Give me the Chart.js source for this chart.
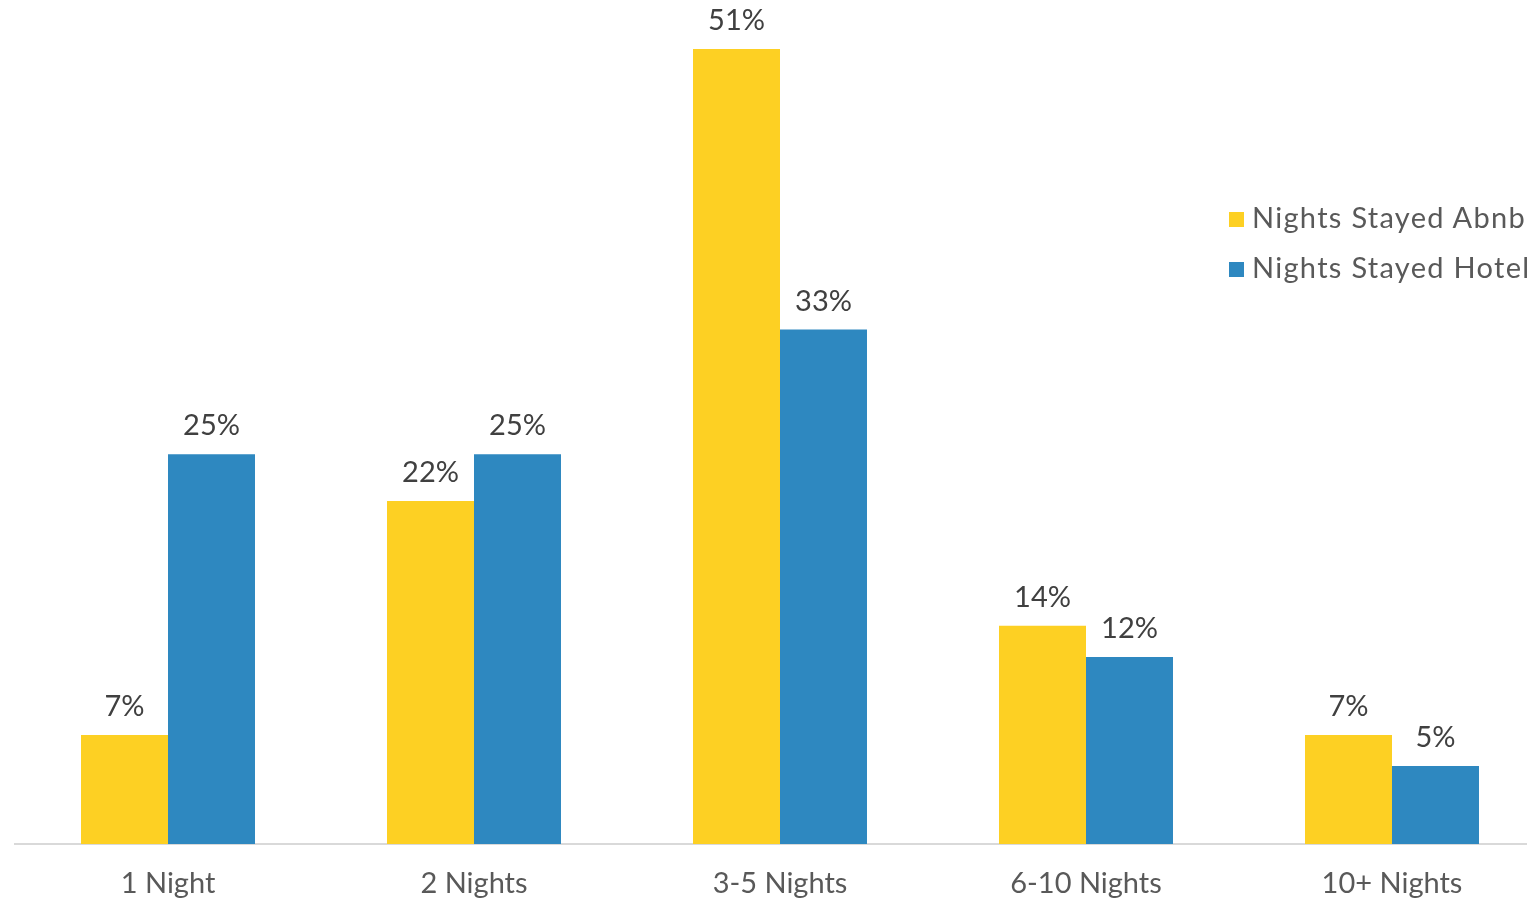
<!DOCTYPE html>
<html>
<head>
<meta charset="utf-8">
<script src="https://cdn.jsdelivr.net/npm/chart.js@4"></script>
<style>
  html, body { margin: 0; padding: 0; background: #fff; overflow: hidden; }
  #wrap { position: relative; width: 1560px; height: 902px; }
  #legend { position: absolute; left: 1229px; top: 199px; font-family: Lato, sans-serif; font-size: 29px; letter-spacing: 1.3px; color: #595959; white-space: nowrap; }
  #legend div { height: 50px; line-height: 36px; }
  #legend span.box { display: inline-block; width: 15px; height: 15px; margin-right: 8px; vertical-align: 1px; }
</style>
</head>
<body>
<div id="wrap">
  <canvas id="nights_chart" width="1560" height="902"></canvas>
  <div id="legend"></div>
</div>
<script>
const categories = ["1 Night", "2 Nights", "3-5 Nights", "6-10 Nights", "10+ Nights"];
const abnb = [7, 22, 51, 14, 7];
const hotel = [25, 25, 33, 12, 5];
const seriesNames = ["Nights Stayed Abnb", "Nights Stayed Hotel"];
const colors = ["#FDD023", "#2E88C0"];

// percent labels above each bar
const barLabels = {
  id: "barLabels",
  afterDatasetsDraw(chart) {
    const ctx = chart.ctx;
    ctx.save();
    ctx.font = "29px Lato, sans-serif";
    ctx.fillStyle = "#404040";
    ctx.textAlign = "center";
    ctx.textBaseline = "alphabetic";
    chart.data.datasets.forEach((ds, i) => {
      chart.getDatasetMeta(i).data.forEach((bar, j) => {
        ctx.fillText(ds.data[j] + "%", bar.x, bar.y - 19);
      });
    });
    ctx.restore();
  },
};

let nights_chart = document.getElementById("nights_chart");
let nightsChart = new Chart(nights_chart, {
  type: "bar",
  data: {
    labels: categories,
    datasets: [
      {
        label: seriesNames[0],
        data: abnb,
        backgroundColor: colors[0],
        categoryPercentage: 0.5686,
        barPercentage: 1,
      },
      {
        label: seriesNames[1],
        data: hotel,
        backgroundColor: colors[1],
        categoryPercentage: 0.5686,
        barPercentage: 1,
      },
    ],
  },
  options: {
    responsive: false,
    animation: false,
    layout: { padding: { left: 15, right: 15, top: 0, bottom: 0 } },
    plugins: {
      legend: { display: false },
      tooltip: { enabled: false },
    },
    scales: {
      x: {
        grid: { display: false, drawTicks: false },
        border: { display: true, color: "#D9D9D9", width: 2 },
        ticks: {
          color: "#595959",
          font: { family: "Lato, sans-serif", size: 29 },
          padding: 22,
          maxRotation: 0,
        },
        afterFit(scale) {
          scale.height = 58;
        },
      },
      y: {
        display: false,
        min: 0,
        max: 54.14,
      },
    },
  },
  plugins: [barLabels],
});

let legend = document.getElementById("legend");
seriesNames.forEach((name, i) => {
  let row = document.createElement("div");
  row.innerHTML = '<span class="box" style="background:' + colors[i] + '"></span>' + name;
  legend.appendChild(row);
});
</script>
</body>
</html>
